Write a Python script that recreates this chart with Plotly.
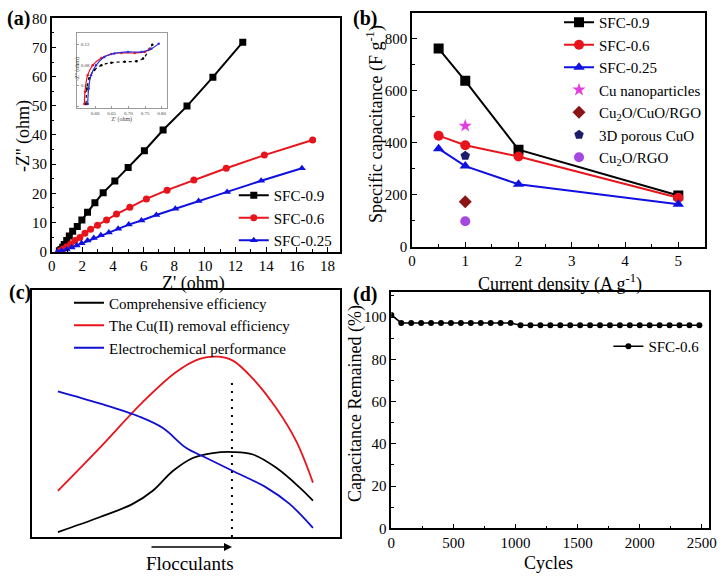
import plotly.graph_objects as go

FONT = "Liberation Serif"

# (a) Nyquist plots
z09_re = [0.5, 0.61, 0.72, 0.82, 0.98, 1.15, 1.37, 1.67, 1.97, 2.34, 2.82, 3.36, 4.12, 4.99, 6.05, 7.27, 8.83, 10.52, 12.47]
z09_im = [0.3, 0.8, 1.5, 2.5, 3.8, 5.4, 7.0, 8.6, 10.9, 13.5, 16.8, 20.2, 24.2, 28.9, 34.6, 41.7, 49.9, 59.8, 71.8]
z06_re = [0.54, 0.76, 0.98, 1.24, 1.52, 1.84, 2.17, 2.54, 2.99, 3.58, 4.23, 5.10, 6.18, 7.53, 9.28, 11.39, 13.88, 17.03]
z06_im = [0.3, 0.9, 1.7, 2.6, 3.8, 4.9, 6.3, 7.7, 9.1, 10.9, 12.9, 15.2, 18.1, 21.1, 24.6, 28.6, 33.1, 38.3]
z025_re = [0.37, 0.65, 0.98, 1.30, 1.63, 1.95, 2.34, 2.75, 3.21, 3.73, 4.34, 5.03, 5.86, 6.83, 8.07, 9.59, 11.45, 13.67, 16.33]
z025_im = [0.0, 0.3, 0.8, 1.4, 2.1, 2.9, 3.8, 4.7, 5.6, 6.6, 7.9, 9.3, 10.7, 12.6, 14.7, 17.4, 20.5, 24.3, 28.6]

# (a) inset, high frequency region
in09_re = [0.573, 0.576, 0.583, 0.598, 0.619, 0.649, 0.689, 0.724, 0.744, 0.764, 0.772]
in09_im = [0.004, 0.034, 0.054, 0.070, 0.079, 0.084, 0.086, 0.087, 0.092, 0.111, 0.119]
in06_re = [0.568, 0.570, 0.578, 0.593, 0.619, 0.649, 0.679, 0.719, 0.749, 0.764]
in06_im = [0.004, 0.028, 0.060, 0.079, 0.093, 0.101, 0.103, 0.103, 0.105, 0.110]
in025_re = [0.578, 0.581, 0.588, 0.603, 0.628, 0.658, 0.699, 0.739, 0.769, 0.791]
in025_im = [0.004, 0.034, 0.060, 0.079, 0.095, 0.102, 0.105, 0.105, 0.111, 0.121]

# (b) rate capability
current = [0.5, 1, 2, 5]
cap09 = [762, 638, 373, 197]
cap06 = [427, 390, 347, 188]
cap025 = [377, 310, 240, 163]
ref_names = ["Cu nanoparticles", "Cu<sub>2</sub>O/CuO/RGO", "3D porous CuO", "Cu<sub>2</sub>O/RGO"]
ref_current = [1, 1, 1, 1]
ref_cap = [465, 173, 350, 98]
ref_symbols = ["star", "diamond", "pentagon", "circle"]
ref_colors = ["#e33ce3", "#8b1414", "#1c1c6e", "#a548e0"]

# (c) schematic curves (arbitrary units)
red_x = [8.5, 22.0, 36.1, 46.9, 54.5, 60.5, 65.3, 71.8, 79.4, 85.9, 91.3]
red_y = [18.7, 36.0, 54.7, 66.8, 72.1, 73.0, 71.4, 64.1, 52.1, 38.7, 22.0]
blue_x = [8.5, 22.0, 35.0, 42.6, 50.2, 56.7, 65.3, 76.2, 83.7, 91.3]
blue_y = [59.0, 54.1, 48.7, 44.1, 36.0, 32.0, 26.7, 20.0, 13.4, 3.7]
black_x = [8.5, 22.0, 32.8, 39.3, 45.8, 52.3, 58.8, 65.3, 71.8, 79.4, 87.0, 91.3]
black_y = [2.0, 8.0, 13.4, 18.7, 26.7, 32.0, 34.0, 34.4, 33.4, 28.0, 20.0, 14.7]

# (d) cycling
cycles = [0] + [80 * k for k in range(1, 32)]
retention = [101.0] + [97.2] * 12 + [96.1] * 19

fig = go.Figure()

# ---- (a)
for xs, ys, nm, col, sym in [(z09_re, z09_im, "SFC-0.9", "black", "square"),
                             (z06_re, z06_im, "SFC-0.6", "#e8141c", "circle"),
                             (z025_re, z025_im, "SFC-0.25", "#1010e0", "triangle-up")]:
    fig.add_trace(go.Scatter(x=xs, y=ys, name=nm, mode="lines+markers",
                             line=dict(color=col, width=2),
                             marker=dict(symbol=sym, size=7, color=col),
                             xaxis="x", yaxis="y", legend="legend"))

for xs, ys, col, dash in [(in09_re, in09_im, "black", "dot"), (in06_re, in06_im, "#e8141c", "solid"),
                          (in025_re, in025_im, "#3030e0", "solid")]:
    fig.add_trace(go.Scatter(x=xs, y=ys, mode="lines+markers", showlegend=False,
                             line=dict(color=col, width=1.2, dash=dash, shape="spline"),
                             marker=dict(size=2.5, color=col),
                             xaxis="x5", yaxis="y5"))

# ---- (b)
for ys, nm, col, sym in [(cap09, "SFC-0.9", "black", "square"),
                         (cap06, "SFC-0.6", "#e8141c", "circle"),
                         (cap025, "SFC-0.25", "#1010e0", "triangle-up")]:
    fig.add_trace(go.Scatter(x=current, y=ys, name=nm, mode="lines+markers",
                             line=dict(color=col, width=2),
                             marker=dict(symbol=sym, size=10, color=col),
                             xaxis="x2", yaxis="y2", legend="legend2"))
for i in range(len(ref_names)):
    fig.add_trace(go.Scatter(x=[ref_current[i]], y=[ref_cap[i]], name=ref_names[i], mode="markers",
                             marker=dict(symbol=ref_symbols[i], size=10, color=ref_colors[i]),
                             xaxis="x2", yaxis="y2", legend="legend2"))

# ---- (c)
for xs, ys, nm, col in [(black_x, black_y, "Comprehensive efficiency", "black"),
                        (red_x, red_y, "The Cu(II) removal efficiency", "#e8141c"),
                        (blue_x, blue_y, "Electrochemical performance", "#1010d0")]:
    fig.add_trace(go.Scatter(x=xs, y=ys, name=nm, mode="lines",
                             line=dict(color=col, width=1.8, shape="spline", smoothing=1),
                             xaxis="x3", yaxis="y3", legend="legend3"))
fig.add_trace(go.Scatter(x=[65, 65], y=[0, 63.4], mode="lines", showlegend=False,
                         line=dict(color="black", width=2, dash="2px,6px"),
                         xaxis="x3", yaxis="y3"))

# ---- (d)
fig.add_trace(go.Scatter(x=cycles, y=retention, name="SFC-0.6", mode="lines+markers",
                         line=dict(color="black", width=1.5),
                         marker=dict(symbol="circle", size=6, color="black"),
                         xaxis="x4", yaxis="y4", legend="legend4"))

tickfont = dict(family=FONT, size=15, color="black")
axis_common = dict(showline=True, linecolor="black", linewidth=1.5, mirror=True,
                   ticks="inside", ticklen=5, tickcolor="black", tickwidth=1.2,
                   showgrid=False, zeroline=False, tickfont=tickfont)
minor = dict(ticks="inside", ticklen=3, tickcolor="black", showgrid=False)
box_only = dict(showline=True, linecolor="black", linewidth=1.5, mirror=True,
                showticklabels=False, ticks="", showgrid=False, zeroline=False)
inset_common = dict(showline=True, linecolor="#9a9a9a", linewidth=1, mirror=True,
                    ticks="inside", ticklen=2, tickcolor="#9a9a9a", showgrid=False, zeroline=False,
                    tickfont=dict(family=FONT, size=5, color="#444444"))

legend_common = dict(font=dict(family=FONT, size=15, color="black"), bgcolor="rgba(0,0,0,0)",
                     borderwidth=0, xanchor="left", yanchor="top", tracegroupgap=0)

fig.update_layout(
    width=726, height=582,
    margin=dict(l=0, r=0, t=0, b=0, autoexpand=False),
    paper_bgcolor="white", plot_bgcolor="white",
    showlegend=True,
    font=dict(family=FONT, color="black"),
    xaxis=dict(domain=[0.0712, 0.468], range=[0, 18.8], dtick=2, anchor="y",
               minor=dict(dtick=1, **minor), **axis_common),
    yaxis=dict(domain=[0.5675, 0.9686], range=[0, 80], dtick=10, anchor="x",
               minor=dict(dtick=5, **minor), **axis_common),
    xaxis2=dict(domain=[0.5675, 0.971], range=[0, 5.5], dtick=1, anchor="y2",
                minor=dict(dtick=0.5, **minor), **axis_common),
    yaxis2=dict(domain=[0.5761, 0.9782], range=[0, 900], dtick=200, anchor="x2",
                minor=dict(dtick=100, **minor), **axis_common),
    xaxis3=dict(domain=[0.0437, 0.468], range=[0, 100], anchor="y3", **box_only),
    yaxis3=dict(domain=[0.0773, 0.5017], range=[0, 100], anchor="x3", **box_only),
    xaxis4=dict(domain=[0.539, 0.977], range=[0, 2560], dtick=500, anchor="y4",
                minor=dict(dtick=250, **minor), **axis_common),
    yaxis4=dict(domain=[0.0923, 0.4988], range=[0, 112], dtick=20, anchor="x4",
                minor=dict(dtick=10, **minor), **axis_common),
    xaxis5=dict(domain=[0.1056, 0.2296], range=[0.545, 0.815], anchor="y5",
                tickvals=[0.55, 0.60, 0.65, 0.70, 0.75, 0.80],
                ticktext=["0.55", "0.60", "0.65", "0.70", "0.75", "0.80"],
                title=dict(text="Z' (ohm)", font=dict(family=FONT, size=6, color="#444444"), standoff=0),
                **inset_common),
    yaxis5=dict(domain=[0.8149, 0.9428], range=[-0.003, 0.141], anchor="x5",
                tickvals=[0, 0.04, 0.08, 0.12], ticktext=["0.00", "0.04", "0.08", "0.12"],
                ticklabelposition="inside",
                **inset_common),
    legend=dict(x=0.322, y=0.6924, **legend_common),
    legend2=dict(x=0.770, y=0.9897, **legend_common),
    legend3=dict(x=0.095, y=0.5077, **legend_common),
    legend4=dict(x=0.838, y=0.4328, **legend_common),
)

# panel labels
for txt, px, py in [("(a)", 5, 18), ("(b)", 351, 18), ("(c)", 7, 292), ("(d)", 351, 294)]:
    fig.add_annotation(text="<b>" + txt + "</b>", x=px / 726, y=1 - py / 582, xref="paper", yref="paper",
                       xanchor="left", yanchor="middle", showarrow=False,
                       font=dict(family=FONT, size=20, color="black"))

# axis titles
titles = [
    ("Z' (ohm)", 193, 283, 0, 18),
    ("-Z'' (ohm)", 23, 136, -90, 18),
    ("Current density (A g<sup>-1</sup>)", 560, 283, 0, 18),
    ("Specific capacitance (F g<sup>-1</sup>)", 375, 124, -90, 18),
    ("Cycles", 548, 563, 0, 18),
    ("Capacitance Remained (%)", 355, 404, -90, 18),
    ("-Z'' (ohm)", 77, 69, -90, 6),
]
for txt, px, py, ang, sz in titles:
    fig.add_annotation(text=txt, x=px / 726, y=1 - py / 582, xref="paper", yref="paper",
                       xanchor="center", yanchor="middle", showarrow=False, textangle=ang,
                       font=dict(family=FONT, size=sz, color="black" if sz > 10 else "#444444"))

# (c) arrow and label
fig.add_annotation(text="", x=232 / 726, y=1 - 547 / 582, xref="paper", yref="paper",
                   ax=-82, ay=0, showarrow=True, arrowhead=2, arrowsize=1, arrowwidth=1.6,
                   arrowcolor="black")
fig.add_annotation(text="Flocculants", x=190 / 726, y=1 - 563 / 582, xref="paper", yref="paper",
                   xanchor="center", yanchor="middle", showarrow=False,
                   font=dict(family=FONT, size=19, color="black"))

# page has a default body margin that shifts the figure, remove it
fig.write_html("out.html", config={"displayModeBar": False},
               post_script="document.body.style.margin='0';document.body.style.overflow='hidden';")
